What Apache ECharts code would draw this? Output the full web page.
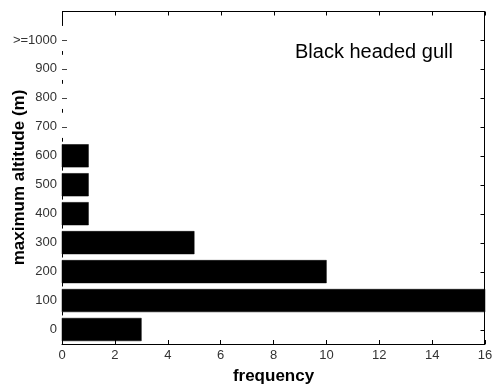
<!DOCTYPE html>
<html>
<head>
<meta charset="utf-8">
<script src="https://cdn.jsdelivr.net/npm/echarts@6/dist/echarts.min.js"></script>
<style>html,body{margin:0;padding:0;background:#fff}#c{width:493px;height:386px}</style>
</head>
<body>
<div id="c"></div>
<script>
const categories = ['0', '100', '200', '300', '400', '500', '600', '700', '800', '900', '>=1000'];
const altitudes = [0, 100, 200, 300, 400, 500, 600, 700, 800, 900, 1000];
const frequency = [3, 16, 10, 5, 1, 1, 1, 0, 0, 0, 0];
const xTickValues = [0, 2, 4, 6, 8, 10, 12, 14, 16];

const FONT = 'Liberation Sans, Arial, Helvetica, sans-serif';
const chart = echarts.init(document.getElementById('c'), null, {renderer: 'canvas'});
const stepPx = 333 * 100 / 1150;
const LINE = {stroke: '#000', lineWidth: 1};

chart.setOption({
  animation: false,
  backgroundColor: '#fff',
  title: {
    text: 'Black headed gull',
    left: 290, top: 37,
    textStyle: {fontFamily: FONT, fontSize: 20, fontWeight: 'normal', color: '#000'}
  },
  grid: {left: 62, right: 8, top: 11, bottom: 42, containLabel: false, outerBoundsMode: 'none'},
  xAxis: {
    type: 'value', min: 0, max: 16, interval: 2, position: 'bottom',
    name: 'frequency', nameLocation: 'middle', nameGap: 24, nameMoveOverlap: false,
    nameTextStyle: {fontFamily: FONT, fontSize: 17, fontWeight: 'bold', color: '#000'},
    axisLine: {show: true, onZero: false, lineStyle: {color: '#000', width: 1}},
    axisTick: {show: true, inside: true, length: 4, lineStyle: {color: '#000'}},
    axisLabel: {fontFamily: FONT, fontSize: 13, color: '#333', margin: 5},
    splitLine: {show: false}
  },
  yAxis: {
    type: 'value', min: -50, max: 1100, position: 'left',
    name: 'maximum altitude (m)', nameLocation: 'middle', nameGap: 34, nameMoveOverlap: false,
    nameTextStyle: {fontFamily: FONT, fontSize: 17, fontWeight: 'bold', color: '#000'},
    axisLine: {show: true, onZero: false, lineStyle: {color: '#000', width: 1, type: [3, stepPx - 3]}},
    axisTick: {show: true, inside: true, length: 5, customValues: altitudes, lineStyle: {color: '#444'}},
    axisLabel: {
      fontFamily: FONT, fontSize: 13, color: '#333', margin: 5,
      customValues: altitudes,
      formatter: function (v) { const i = altitudes.indexOf(v); return i >= 0 ? categories[i] : ''; }
    },
    splitLine: {show: false}
  },
  series: [{
    type: 'custom',
    encode: {x: 0, y: 1},
    data: frequency.map((f, i) => [f, altitudes[i]]),
    renderItem: function (params, api) {
      const v = api.value(0), y = api.value(1);
      if (!v) return null;
      const p0 = api.coord([0, y]);
      const p1 = api.coord([v, y]);
      const h = api.size([0, 100])[1] * 0.78;
      return {
        type: 'rect',
        shape: {x: p0[0], y: p0[1] - h / 2, width: p1[0] - p0[0], height: h},
        style: {fill: '#000', stroke: '#000', lineWidth: 0.5}
      };
    }
  }, {
    // top frame line with inward ticks
    type: 'custom', silent: true,
    encode: {x: 0},
    data: xTickValues.map(v => [v, 0]),
    renderItem: function (params, api) {
      const cs = params.coordSys;
      const px = Math.round(api.coord([api.value(0), 0])[0]) + 0.5;
      const top = Math.round(cs.y) + 0.5;
      const children = [{type: 'line', shape: {x1: px, y1: top, x2: px, y2: top + 4}, style: LINE}];
      if (params.dataIndex === 0) {
        children.push({type: 'line', shape: {x1: cs.x, y1: top, x2: cs.x + cs.width, y2: top}, style: LINE});
        const yEnd = api.coord([0, 1050])[1];
        children.push({type: 'line', shape: {x1: px, y1: top, x2: px, y2: yEnd}, style: LINE});
      }
      return {type: 'group', children: children};
    }
  }, {
    // right frame line with inward ticks
    type: 'custom', silent: true,
    encode: {y: 1},
    data: altitudes.map(a => [0, a]),
    renderItem: function (params, api) {
      const cs = params.coordSys;
      const py = Math.round(api.coord([0, api.value(1)])[1]) + 0.5;
      const right = Math.round(cs.x + cs.width) - 0.5;
      const children = [{type: 'line', shape: {x1: right - 4, y1: py, x2: right, y2: py}, style: LINE}];
      if (params.dataIndex === 0) {
        children.push({type: 'line', shape: {x1: right, y1: cs.y, x2: right, y2: cs.y + cs.height}, style: LINE});
      }
      return {type: 'group', children: children};
    }
  }]
});
</script>
</body>
</html>
